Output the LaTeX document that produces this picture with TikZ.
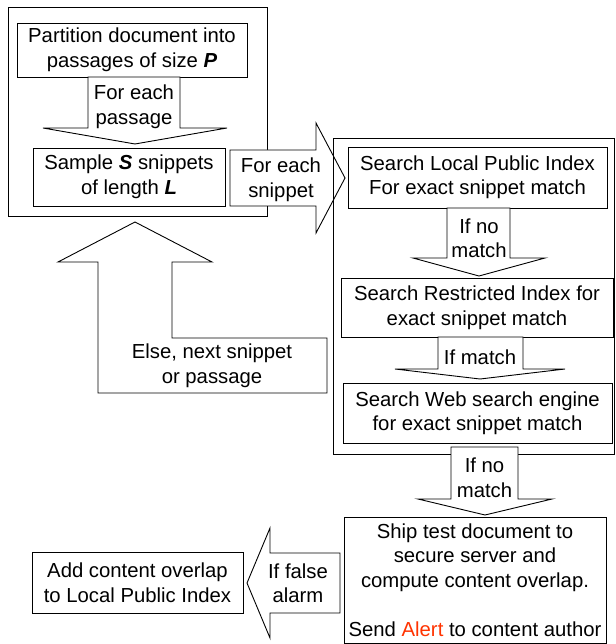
\documentclass[tikz,border=0pt]{standalone}
\usepackage{fontspec}
\setmainfont{Liberation Sans}
\definecolor{alertred}{RGB}{255,51,0}
\begin{document}
\begin{tikzpicture}[x=1pt,y=-1pt,
  ln/.style={draw=black, line width=0.9pt},
  box/.style={ln, fill=white, rectangle, inner sep=0pt, align=center,
    font=\fontsize{20.3}{24.5}\selectfont},
  frame/.style={ln, rectangle, inner sep=0pt},
  barrow/.style={ln, fill=white, line join=miter},
  txt/.style={align=center, inner sep=0pt, font=\fontsize{20.3}{24.5}\selectfont},
]
\useasboundingbox (0,0) rectangle (615,644);

% left frame
\node[frame, fill=white, minimum width=259pt, minimum height=209pt] (leftframe) at (137.5,111.5) {};
\node[box, minimum width=230pt, minimum height=54pt] (part) at (132,50)
  {Partition document into\\passages of size \textbf{\textit{P}}};
\node[box, minimum width=192pt, minimum height=58pt] (sample) at (129,177)
  {Sample \textbf{\textit{S}} snippets\\of length \textbf{\textit{L}}};

% arrow: for each passage
\draw[barrow] (88,77) -- (180,77) -- (180,128) -- (227,128) -- (135,144)
  -- (43,128) -- (88,128) -- cycle;
\node[txt] (passtxt) at (134,107) {For each\\passage};

% back arrow: else next snippet
\draw[barrow] (98,393) -- (98,262) -- (58,262) -- (135,222) -- (212,262)
  -- (172,262) -- (172,338) -- (327,338) -- (327,393) -- cycle;
\node[txt] (elsetxt) at (212,365.5) {Else, next snippet\\or passage};

% arrow: for each snippet
\draw[barrow] (230,150) -- (316,150) -- (316,123) -- (345,178) -- (316,233)
  -- (316,206) -- (230,206) -- cycle;
\node[txt] (snipTxt) at (281,180) {For each\\snippet};

% right frame
\node[frame, minimum width=281pt, minimum height=316pt] (rightframe) at (473.5,296) {};

\node[box, minimum width=259pt, minimum height=61pt] (local) at (477.5,177.5)
  {Search Local Public Index\\For exact snippet match};

\draw[barrow] (447,208) -- (510,208) -- (510,258) -- (545,258) -- (479,276)
  -- (413,258) -- (447,258) -- cycle;
\node[txt] (nomatch1) at (479,238.5) {If no\\match};

\node[box, minimum width=272pt, minimum height=59pt] (restr) at (477,307.5)
  {Search Restricted Index for\\exact snippet match};

\draw[barrow] (438,337) -- (523,337) -- (523,369) -- (565,369) -- (480,379)
  -- (395,369) -- (438,369) -- cycle;
\node[txt] (ifmatch) at (480,357.5) {If match};

\node[box, minimum width=269pt, minimum height=60pt] (web) at (477.5,413)
  {Search Web search engine\\for exact snippet match};

\draw[barrow] (451,447) -- (518,447) -- (518,499) -- (552,499) -- (485,515)
  -- (418,499) -- (451,499) -- cycle;
\node[txt] (nomatch2) at (484.5,477.5) {If no\\match};

\node[box, minimum width=262pt, minimum height=126pt] (ship) at (475,580)
  {Ship test document to\\secure server and\\compute content overlap.\\[24.5pt]Send \textcolor{alertred}{Alert} to content author};

% arrow: if false alarm
\draw[barrow] (340,553) -- (340,613) -- (270,613) -- (270,638) -- (247,583)
  -- (270,528) -- (270,553) -- cycle;
\node[txt] (falsealarm) at (298,583) {If false\\alarm};

\node[box, minimum width=211pt, minimum height=61pt] (add) at (137.5,582.5)
  {Add content overlap\\to Local Public Index};
\end{tikzpicture}
\end{document}
